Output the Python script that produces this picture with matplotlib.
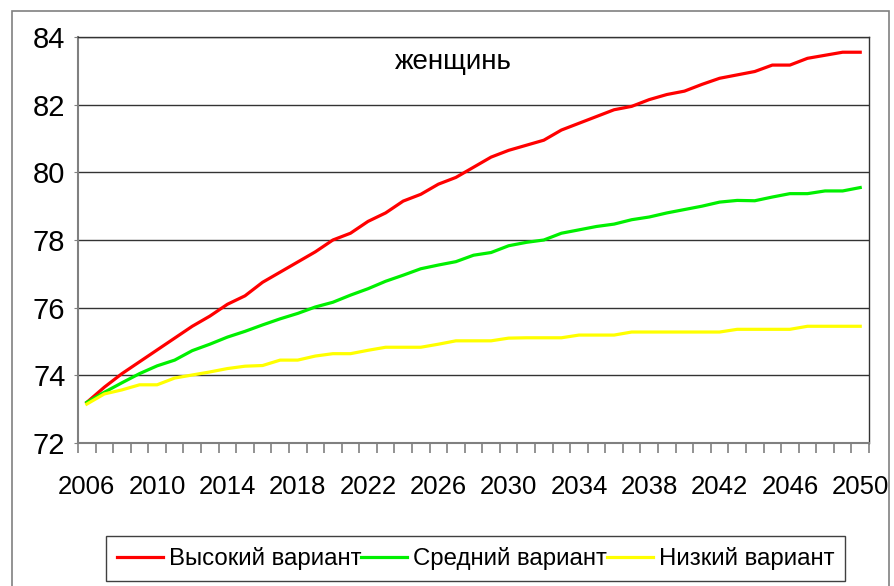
import numpy as np
import matplotlib
matplotlib.use("Agg")
import matplotlib.pyplot as plt
from matplotlib.patches import Rectangle

years = list(range(2006, 2051))

# Высокий вариант
high = [73.2, 73.65, 74.05, 74.4, 74.75, 75.1, 75.45, 75.75, 76.1, 76.35,
        76.75, 77.05, 77.35, 77.65, 78.0, 78.2, 78.55, 78.8, 79.15, 79.35,
        79.65, 79.85, 80.15, 80.45, 80.65, 80.8, 80.95, 81.25, 81.45, 81.65,
        81.85, 81.95, 82.15, 82.3, 82.4, 82.6, 82.78, 82.88, 82.98, 83.17,
        83.17, 83.37, 83.46, 83.55, 83.55]
# Средний вариант
medium = [73.2, 73.5, 73.78, 74.05, 74.28, 74.45, 74.73, 74.92, 75.13, 75.3,
          75.49, 75.67, 75.83, 76.02, 76.16, 76.37, 76.56, 76.78, 76.96, 77.15,
          77.26, 77.36, 77.55, 77.63, 77.83, 77.93, 78.0, 78.2, 78.3, 78.4,
          78.47, 78.6, 78.68, 78.8, 78.9, 79.0, 79.12, 79.17, 79.16, 79.27,
          79.37, 79.37, 79.45, 79.45, 79.55]
# Низкий вариант
low = [73.15, 73.45, 73.57, 73.72, 73.72, 73.92, 74.01, 74.1, 74.2, 74.27,
       74.29, 74.45, 74.45, 74.57, 74.64, 74.64, 74.74, 74.83, 74.83, 74.83,
       74.92, 75.02, 75.02, 75.02, 75.1, 75.11, 75.11, 75.11, 75.19, 75.19,
       75.19, 75.28, 75.28, 75.28, 75.28, 75.28, 75.28, 75.36, 75.36, 75.36,
       75.36, 75.45, 75.45, 75.45, 75.45]

labels = ["Высокий вариант", "Средний вариант", "Низкий вариант"]
colors = ["#FF0000", "#00F000", "#FFFF00"]
y_ticks = [72, 74, 76, 78, 80, 82, 84]

plt.rcParams["font.family"] = ["Liberation Sans", "DejaVu Sans"]

fig = plt.figure(figsize=(8.94, 5.86), dpi=100)
ax = fig.add_axes([78 / 894, 1 - 443 / 586, 791 / 894, 406 / 586])

# outer chart frame
fig.patches.append(Rectangle((12 / 894, -0.02), 877 / 894, 1 - 11 / 586 + 0.02,
                             transform=fig.transFigure, fill=False,
                             edgecolor="#808080", linewidth=1.2))

for series, lab, col in zip([high, medium, low], labels, colors):
    ax.plot(years, series, color=col, linewidth=2.3, label=lab, zorder=3)

ax.set_ylim(72, 84)
ax.set_xlim(2005.5, 2050.5)
ax.set_yticks(y_ticks)
ax.set_yticklabels([str(v) for v in y_ticks], fontsize=21)
ax.set_xticks(years[::4])
ax.set_xticklabels([str(y) for y in years[::4]], fontsize=18.5)
ax.set_xticks(np.arange(2005.5, 2051, 1.0), minor=True)
ax.tick_params(axis="x", which="major", length=0, pad=23)
ax.tick_params(axis="x", which="minor", length=7, color="#808080", width=1.2)
ax.tick_params(axis="y", length=3, color="#808080", pad=6)

ax.yaxis.grid(True, color="#333333", linewidth=1)
ax.set_axisbelow(True)
for side in ["left", "bottom"]:
    ax.spines[side].set_color("#808080")
    ax.spines[side].set_linewidth(1.5)
for side in ["top", "right"]:
    ax.spines[side].set_color("#333333")
    ax.spines[side].set_linewidth(1)

ax.text(0.474, 0.938, "женщинь", transform=ax.transAxes, fontsize=20,
        ha="center", va="center")

leg = fig.legend(loc="center", bbox_to_anchor=(0.532, 0.047), ncol=3,
                 fontsize=17.3, frameon=True, fancybox=False, framealpha=1,
                 handlelength=1.9, handletextpad=0.25, columnspacing=0.0,
                 borderpad=0.45, borderaxespad=0)
leg.get_frame().set_edgecolor("#404040")
leg.get_frame().set_linewidth(1)

fig.savefig("out.png", dpi=100)
